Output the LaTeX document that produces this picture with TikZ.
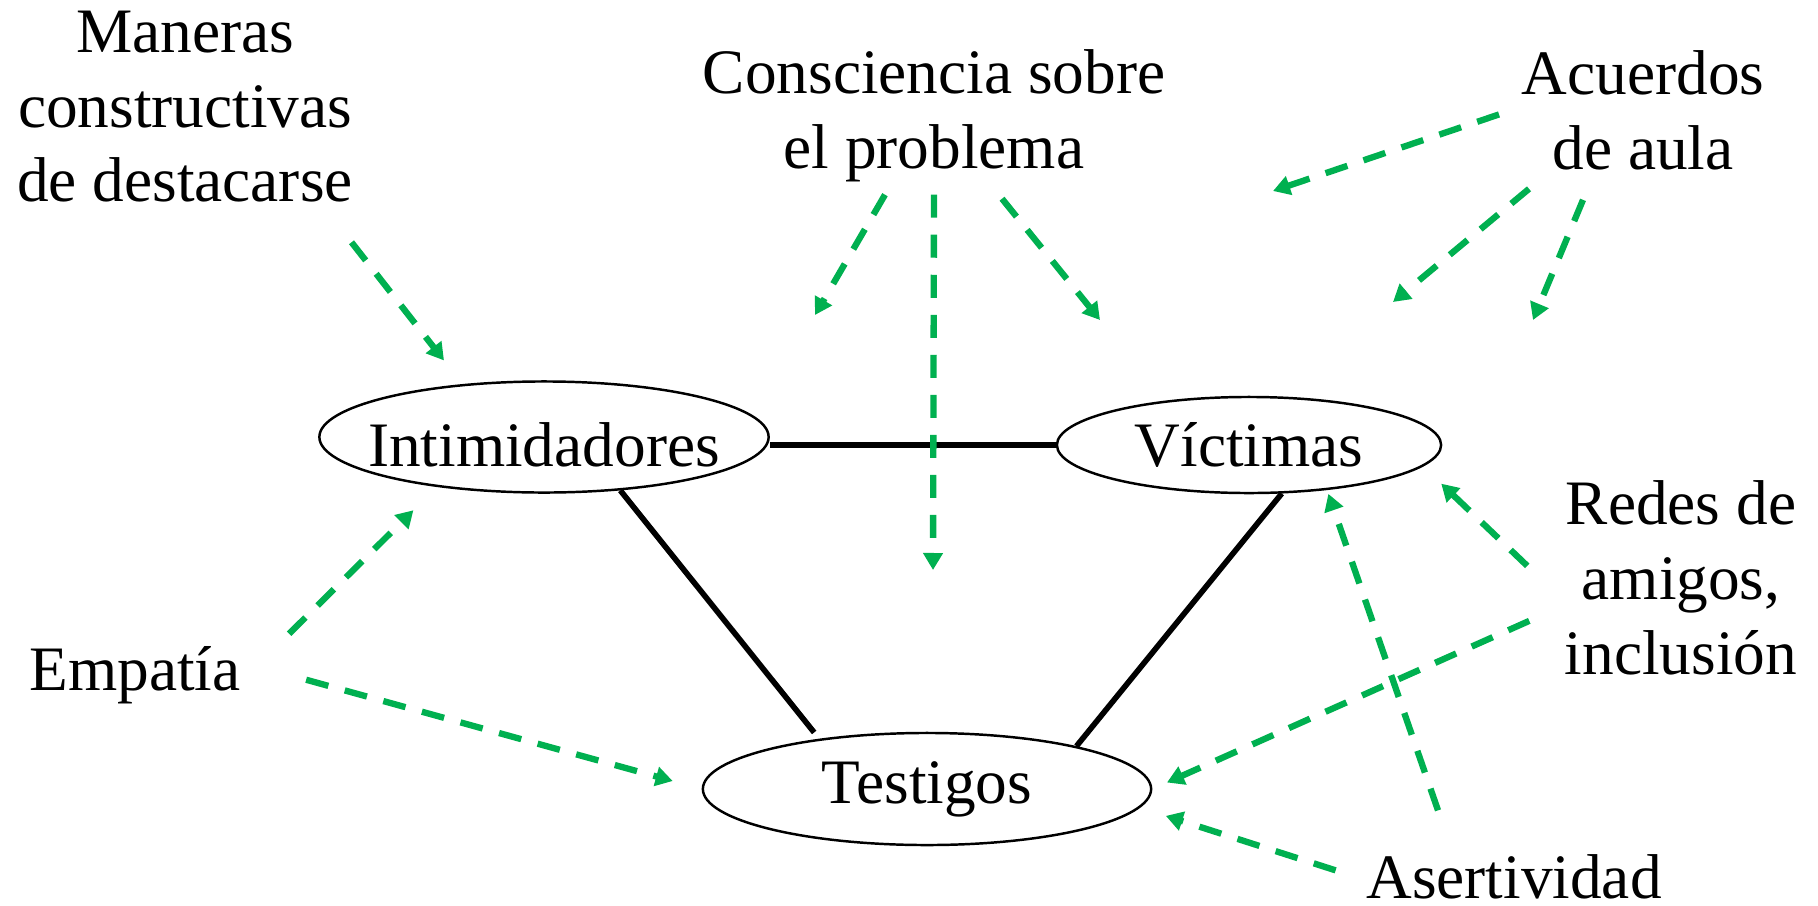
\documentclass[tikz,border=0pt]{standalone}
\usepackage{fontspec}
\setmainfont{Liberation Serif}
\usetikzlibrary{arrows.meta,shapes.geometric}
\definecolor{cuegreen}{RGB}{0,176,80}
\tikzset{
    every node/.style={inner sep=0mm, align=center, font=\fontsize{18pt}{21.3pt}\selectfont}
}
\tikzset{role/.style={ellipse, draw, line width=0.7pt}}
\tikzset{link/.style={line width=1.6pt}}
\tikzset{cue/.style={cuegreen, line width=1.8pt, dash pattern=on 0.23cm off 0.17cm,
    -{Triangle[length=0.17cm,width=0.19cm]}}}

\begin{document}
\begin{tikzpicture}[x=0.01cm, y=-0.01cm]
  \useasboundingbox (0,0) rectangle (1818,906);

  \node (int) [role, minimum width=4.49cm, minimum height=1.11cm, text height=0.6cm] at (544,437) {\makebox[0pt]{Intimidadores}};
  \node (vic) [role, minimum width=3.84cm, minimum height=0.96cm] at (1249,445) {\makebox[0pt]{Víctimas}};
  \node (tes) [role, minimum width=4.48cm, minimum height=1.12cm] at (927,789) {\makebox[0pt]{Testigos}};

  \node (man) [anchor=north] at (185,10) {Maneras\\constructivas\\de destacarse};
  \node (con) [anchor=north] at (934,49) {Consciencia sobre\\el problema};
  \node (acu) [anchor=north] at (1643,50) {Acuerdos\\de aula};
  \node (red) [anchor=north] at (1681,480) {Redes de\\amigos,\\inclusión};
  \node (emp) [anchor=base] at (135,690) {Empatía};
  \node (ase) [anchor=base] at (1514,898) {Asertividad};

  \coordinate (k1) at (815,315);
  \coordinate (k2) at (933,570);
  \coordinate (k3) at (1100,320);
  \coordinate (k4) at (1273,191);
  \coordinate (k5) at (1393,302);
  \coordinate (k6) at (1533,320);

  \draw (int.east |- vic.west) edge [link] (vic.west);
  \draw (int.-35) edge [link, shorten >=0.08cm] (tes.155);
  \draw (vic.-56) edge [link] (tes.16);

  \draw ([shift={(-2,39)}]man.south east) edge [cue, shorten >=0.3cm] (int.147);
  \draw ([shift={(-49,12)}]con.south) edge [cue] (k1);
  \draw ([shift={(0,12)}]con.south) edge [cue] (k2);
  \draw ([shift={(68,16)}]con.south) edge [cue] (k3);
  \draw ([shift={(-22,4)}]acu.west) edge [cue] (k4);
  \draw ([shift={(-114,18)}]acu.south) edge [cue] (k5);
  \draw ([shift={(-60,29)}]acu.south) edge [cue] (k6);
  \draw ([shift={(-37,-12)}]red.west) edge [cue, shorten >=0.25cm] (vic.-7);
  \draw ([shift={(-35,43)}]red.west) edge [cue, shorten >=0.16cm] (tes.east);
  \draw ([shift={(-76,-43)}]ase.north) edge [cue, shorten >=0.04cm] (vic.-30);
  \draw ([shift={(-30,-6)}]ase.west) edge [cue, shorten >=0.27cm] (tes.-5);
  \draw ([shift={(48,-41)}]emp.east) edge [cue, shorten >=0.33cm] (int.205);
  \draw ([shift={(65,5)}]emp.east) edge [cue, shorten >=0.3cm] (tes.west);
\end{tikzpicture}
\end{document}
